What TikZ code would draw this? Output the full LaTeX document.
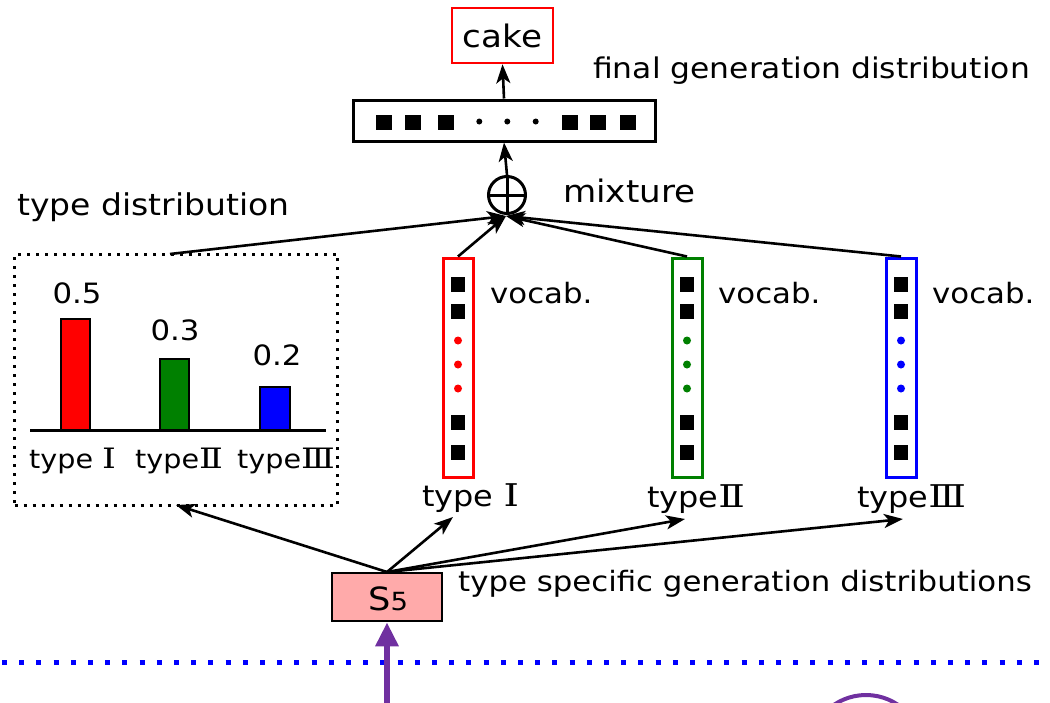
\documentclass[tikz,border=0pt]{standalone}
\usepackage{fontspec}
\setmainfont{DejaVu Sans}[FakeStretch=1.1]
\newfontfamily\romn{DejaVu Serif}[FakeStretch=1.25,Scale=1.08]
\usetikzlibrary{arrows.meta}
\newcommand\setfs[1]{\fontsize{#1}{#1}\selectfont}
\definecolor{dgreen}{RGB}{0,128,0}
\definecolor{pinkfill}{RGB}{255,170,170}
\definecolor{purp}{RGB}{112,48,160}
\tikzset{
  lbl/.style={inner sep=0pt, anchor=base west},
  clbl/.style={inner sep=0pt, anchor=base},
  conn/.style={line width=2.6pt, -{Stealth[length=19pt,width=14pt,inset=5pt]}},
  vbox/.style={draw, line width=3pt, minimum width=30pt, minimum height=219pt, inner sep=0pt},
  sq/.style={fill=black, minimum width=16pt, minimum height=15pt, inner sep=0pt},
  bar/.style={draw=black, line width=2pt},
}
\begin{document}
\begin{tikzpicture}[x=1pt,y=-1pt]
\useasboundingbox (0,0) rectangle (1050,702);

% top: cake and final distribution
\node[draw=red, line width=2.6pt, minimum width=101pt, minimum height=55pt, inner sep=0pt, font=\setfs{31}] (cake) at (502.5,35.5) {cake};
\node[draw, line width=3pt, minimum width=302pt, minimum height=41pt, inner sep=0pt] (vec) at (504,120.5) {};
\foreach \x/\n in {384/a,413/b,445.5/c,569.5/d,597.7/e,628.3/f}
  \node[sq] (vs\n) at (\x,122.5) {};
\foreach \x/\n in {479.3/a,507.3/b,535.7/c}
  \fill (\x,121.5) circle (3pt);
\node[lbl, font=\setfs{28.5}] (fgd) at (593,78) {final generation distribution};

% mixture
\node[draw, circle, line width=3pt, minimum size=37pt, inner sep=0pt] (ox) at (507,195) {};
\draw[line width=3pt] (ox.north) -- (ox.south) (ox.west) -- (ox.east);
\node[lbl, font=\setfs{31}] (mix) at (563,202) {mixture};
\coordinate (oin) at (506,216);
\draw[conn] (ox.north) -- (vec.south);
\draw[conn] (vec.north) -- (cake.south);

% type distribution box
\node[lbl, font=\setfs{30}] (tdl) at (17,215) {type distribution};
\node[draw, line width=3pt, dash pattern=on 3pt off 6pt, minimum width=323pt, minimum height=251pt, inner sep=0pt] (dbox) at (176,379.5) {};
\coordinate (dtop) at (170,254);
\draw[conn] (dtop) -- (oin);

% bar chart
\draw[bar, fill=red] (61,319) rectangle (90,430);
\draw[bar, fill=dgreen] (160,359) rectangle (189,430);
\draw[bar, fill=blue] (260,387) rectangle (290,430);
\draw[line width=3pt] (30,430) -- (326,430);
\node[clbl, font=\setfs{28}] (v1) at (77,303) {0.5};
\node[clbl, font=\setfs{28}] (v2) at (175,340) {0.3};
\node[clbl, font=\setfs{28}] (v3) at (277,365) {0.2};
\node[lbl, font=\setfs{26}] (b1) at (29,468) {type {\romn Ⅰ}};
\node[lbl, font=\setfs{26}] (b2) at (135,468) {type{\romn Ⅱ}};
\node[lbl, font=\setfs{26}] (b3) at (237,468) {type{\romn Ⅲ}};

% vocab boxes
\node[vbox, draw=red] (vr) at (458,367.5) {};
\node[vbox, draw=dgreen] (vg) at (687,367.5) {};
\node[vbox, draw=blue] (vb) at (901,367.5) {};
\foreach \bx/\c in {458/red,687/dgreen,901/blue}{
  \foreach \y in {284.5,311.5,422.5,452.5}
    \node[sq, minimum width=14pt] at (\bx,\y) {};
  \foreach \y in {340.5,364.5,388.5}
    \fill[\c] (\bx,\y) circle (4pt);
}
\node[lbl, font=\setfs{28}] (voc1) at (490,303) {vocab.};
\node[lbl, font=\setfs{28}] (voc2) at (718,303) {vocab.};
\node[lbl, font=\setfs{28}] (voc3) at (932,303) {vocab.};
\draw[conn] (vr.north) -- (oin);
\draw[conn] (vg.north) -- (oin);
\draw[conn] (vb.north) -- (oin);

\node[lbl, font=\setfs{29}] (t1) at (422,506) {type {\romn Ⅰ}};
\node[lbl, font=\setfs{29}] (t2) at (647,507) {type{\romn Ⅱ}};
\node[lbl, font=\setfs{29}] (t3) at (857,507) {type{\romn Ⅲ}};

% S5
\node[draw, fill=pinkfill, line width=2.6pt, minimum width=110pt, minimum height=48pt, inner sep=0pt] (s5) at (387,597) {};
\node[inner sep=0pt, anchor=base west, font=\setfs{32}] (s5t) at (368,610) {S\setfs{25}5};
\node[lbl, font=\setfs{28}] (tsg) at (458,591) {type specific generation distributions};
\coordinate (sout) at (387,572);
\coordinate (e0) at (176,505);
\coordinate (e1) at (453,517);
\coordinate (e2) at (685,519);
\coordinate (e3) at (903,519);
\draw[conn] (sout) -- (e0);
\draw[conn] (sout) -- (e1);
\draw[conn] (sout) -- (e2);
\draw[conn] (sout) -- (e3);

% bottom
\draw[blue, line width=5pt, dash pattern=on 5pt off 12.2pt] (2,662) -- (1050,662);
\coordinate (pbot) at (387,706);
\draw[purp, line width=6pt, -{Triangle[length=24pt,width=22pt]}] (pbot) -- (s5.south);
\begin{scope}
\clip (0,0) rectangle (1050,702);
\draw[purp, line width=4pt] (866,752) circle (57pt);
\end{scope}
\end{tikzpicture}
\end{document}
